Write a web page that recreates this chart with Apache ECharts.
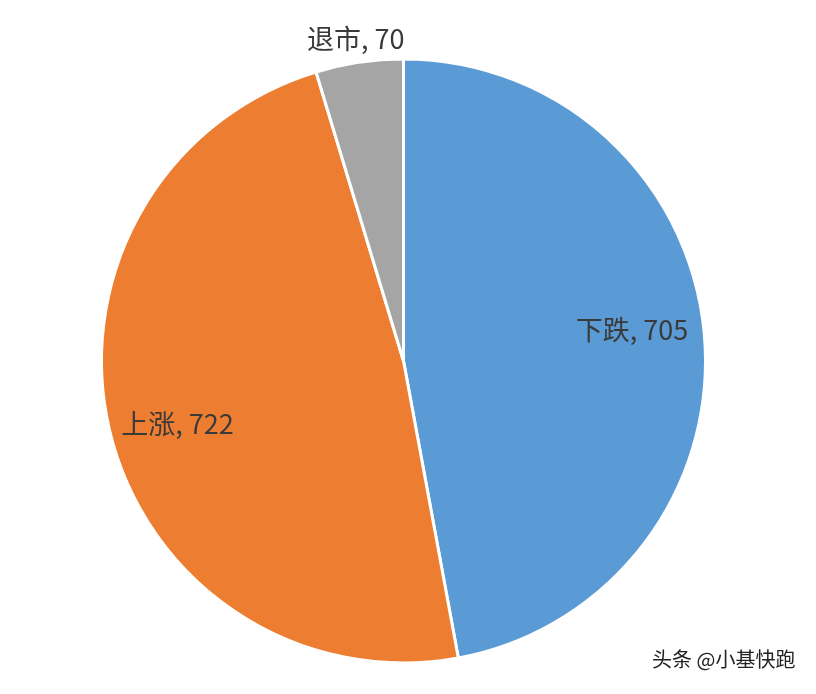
<!DOCTYPE html>
<html><head><meta charset="utf-8">
<script src="https://cdn.jsdelivr.net/npm/echarts@6/dist/echarts.min.js"></script>
<style>html,body{margin:0;padding:0;background:#fff}#c{width:816px;height:694px}</style>
</head><body><div id="c"></div>
<script>
const categories = ['下跌', '上涨', '退市'];
const values = [705, 722, 70];
const colors = ['#5B9BD5', '#ED7D31', '#A5A5A5'];
const labelRadiusFactor = [0.76, 0.77, 1.08];
const labelDy = [-10, 8, 0];

const CX = 403.5, CY = 361, R = 302;
const total = values.reduce((a, b) => a + b, 0);
const mids = [];
let acc = 0;
values.forEach(v => { mids.push((acc + v / 2) / total * 2 * Math.PI); acc += v; });

const chart = echarts.init(document.getElementById('c'));
chart.setOption({
  backgroundColor: '#ffffff',
  animation: false,
  series: [{
    type: 'pie',
    center: [CX, CY],
    radius: [0, R],
    startAngle: 90,
    clockwise: true,
    data: categories.map((c, i) => ({ name: c, value: values[i], itemStyle: { color: colors[i] } })),
    itemStyle: { borderColor: '#ffffff', borderWidth: 3 },
    label: {
      show: true,
      position: 'inside',
      formatter: '{b}, {c}',
      fontFamily: 'Noto Sans CJK SC',
      fontSize: 27,
      color: '#3a3a3a'
    },
    labelLine: { show: false },
    labelLayout: function (p) {
      const i = p.dataIndex;
      const r = R * labelRadiusFactor[i];
      return {
        x: CX + r * Math.sin(mids[i]),
        y: CY - r * Math.cos(mids[i]) + labelDy[i],
        align: 'center',
        verticalAlign: 'middle'
      };
    },
    emphasis: { disabled: true }
  }],
  graphic: [{
    type: 'text',
    left: 651,
    top: 648,
    style: {
      text: '头条 @小基快跑',
      fontFamily: 'Noto Sans CJK SC',
      fontSize: 20,
      fill: '#222222',
      stroke: '#ffffff',
      lineWidth: 2
    }
  }]
});
</script>
</body></html>
